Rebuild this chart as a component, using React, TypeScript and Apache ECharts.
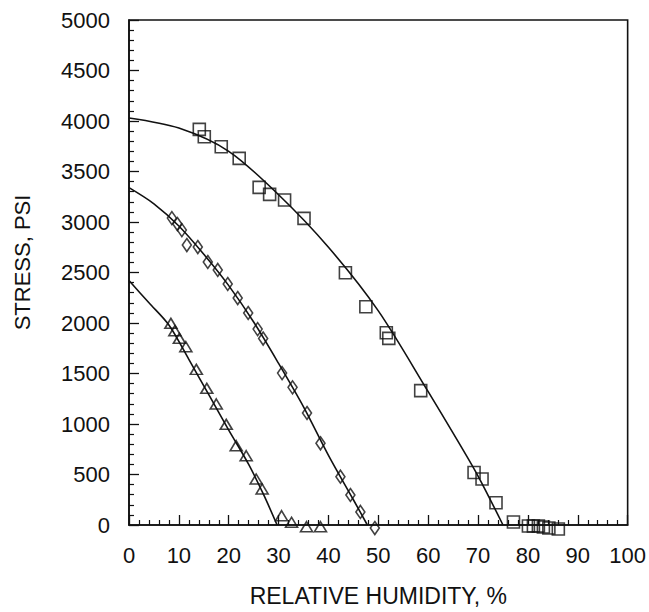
import React, { useEffect, useRef } from "react";
import * as echarts from "echarts";

// Measured points (relative humidity %, stress psi)
const squarePoints: [number, number][] = [
  [14.1, 3917], [15.1, 3844], [18.5, 3745], [22.1, 3630], [26.1, 3343],
  [28.2, 3274], [31.2, 3218], [35.1, 3036], [43.4, 2498], [47.5, 2161],
  [51.6, 1904], [52.1, 1848], [58.5, 1330], [69.2, 520], [70.8, 455],
  [73.6, 220], [77.1, 30], [80.1, -10], [81.1, -10], [82.1, -10],
  [83.1, -20], [84.2, -30], [86.1, -40],
];
const diamondPoints: [number, number][] = [
  [8.6, 3039], [9.7, 2980], [10.6, 2920], [11.6, 2772], [13.8, 2752],
  [15.8, 2604], [17.8, 2525], [19.8, 2386], [21.8, 2247], [23.9, 2099],
  [25.8, 1940], [26.9, 1846], [30.7, 1504], [32.8, 1363], [35.7, 1109],
  [38.4, 809], [42.4, 478], [44.4, 297], [46.4, 129], [49.3, -30],
];
const trianglePoints: [number, number][] = [
  [8.4, 1997], [9.2, 1924], [10.1, 1848], [11.4, 1765], [13.5, 1541],
  [15.6, 1353], [17.5, 1198], [19.5, 997], [21.5, 785], [23.5, 686],
  [25.5, 455], [26.7, 356], [30.6, 92], [32.6, 27], [35.6, -17], [38.4, -17],
];

// Fitted curves
const squareCurve: [number, number][] = [
  [0, 4030], [10, 3930], [20, 3700], [30, 3270], [40, 2750],
  [50, 2120], [60, 1320], [65, 910], [70, 485], [75, 0],
];
const diamondCurve: [number, number][] = [
  [0, 3340], [5, 3180], [10, 2960], [15, 2680], [20, 2370], [25, 2010],
  [30, 1600], [35, 1170], [40, 690], [45, 250], [47.8, 0],
];
const triangleCurve: [number, number][] = [
  [0, 2420], [4, 2200], [8, 1980], [12, 1640], [16, 1290], [20, 940],
  [24, 600], [27, 300], [29.7, 0],
];

const xMin = 0, xMax = 100, xStep = 10;
const yMin = 0, yMax = 5000, yStep = 500;
const xTitle = "RELATIVE HUMIDITY, %";
const yTitle = "STRESS, PSI";

const FONT = "'Liberation Sans', Arial, Helvetica, sans-serif";
const INK = "#111";

export default function App() {
  const ref = useRef<HTMLDivElement>(null);
  useEffect(() => {
    if (!ref.current) return;
    const chart = echarts.init(ref.current, null, { renderer: "svg" });
    const markerStyle = { color: "transparent", borderColor: INK, borderWidth: 1.6 };
    const lineSeries = (data: [number, number][]) => ({
      type: "line",
      data,
      smooth: 0.3,
      showSymbol: false,
      symbol: "none",
      lineStyle: { color: INK, width: 1.6 },
      z: 2,
    });
    const scatter = (data: [number, number][], symbol: string, size: any) => ({
      type: "scatter",
      data,
      symbol,
      symbolSize: size,
      clip: false,
      itemStyle: markerStyle,
      z: 3,
    });
    chart.setOption({
      animation: false,
      backgroundColor: "#fff",
      grid: {
        left: 129, right: 20, top: 20, bottom: 87,
        show: true, borderColor: INK, borderWidth: 1.6,
      },
      xAxis: {
        type: "value", min: xMin, max: xMax, interval: xStep,
        name: xTitle, nameLocation: "middle", nameGap: 59,
        nameTextStyle: { fontFamily: FONT, fontSize: 23, color: INK },
        axisLine: { show: true, lineStyle: { color: INK, width: 1.6 } },
        axisTick: { show: true, inside: true, length: 10, lineStyle: { color: INK, width: 1.3 } },
        minorTick: { show: true, splitNumber: 5, length: 5, lineStyle: { color: INK, width: 1.2 } },
        axisLabel: { fontFamily: FONT, fontSize: 22, color: INK, margin: 19, formatter: (v: number) => String(v) },
        splitLine: { show: false },
      },
      yAxis: {
        type: "value", min: yMin, max: yMax, interval: yStep,
        name: yTitle, nameLocation: "middle", nameGap: 96, nameRotate: 90,
        nameTextStyle: { fontFamily: FONT, fontSize: 22, color: INK, padding: [0, 0, 0, 20] },
        axisLine: { show: true, lineStyle: { color: INK, width: 1.6 } },
        axisTick: { show: true, inside: true, length: 10, lineStyle: { color: INK, width: 1.3 } },
        minorTick: { show: true, splitNumber: 5, length: 5, lineStyle: { color: INK, width: 1.2 } },
        axisLabel: { fontFamily: FONT, fontSize: 22, color: INK, margin: 19, formatter: (v: number) => String(v) },
        splitLine: { show: false },
      },
      series: [
        lineSeries(squareCurve),
        lineSeries(diamondCurve),
        lineSeries(triangleCurve),
        scatter(squarePoints, "rect", 12),
        scatter(diamondPoints, "diamond", [9, 13]),
        scatter(trianglePoints, "triangle", [12, 10]),
      ],
    });
    return () => chart.dispose();
  }, []);
  return (
    <div
      ref={ref}
      style={{ position: "fixed", left: 0, top: 0, width: 649, height: 612, background: "#fff" }}
    />
  );
}
